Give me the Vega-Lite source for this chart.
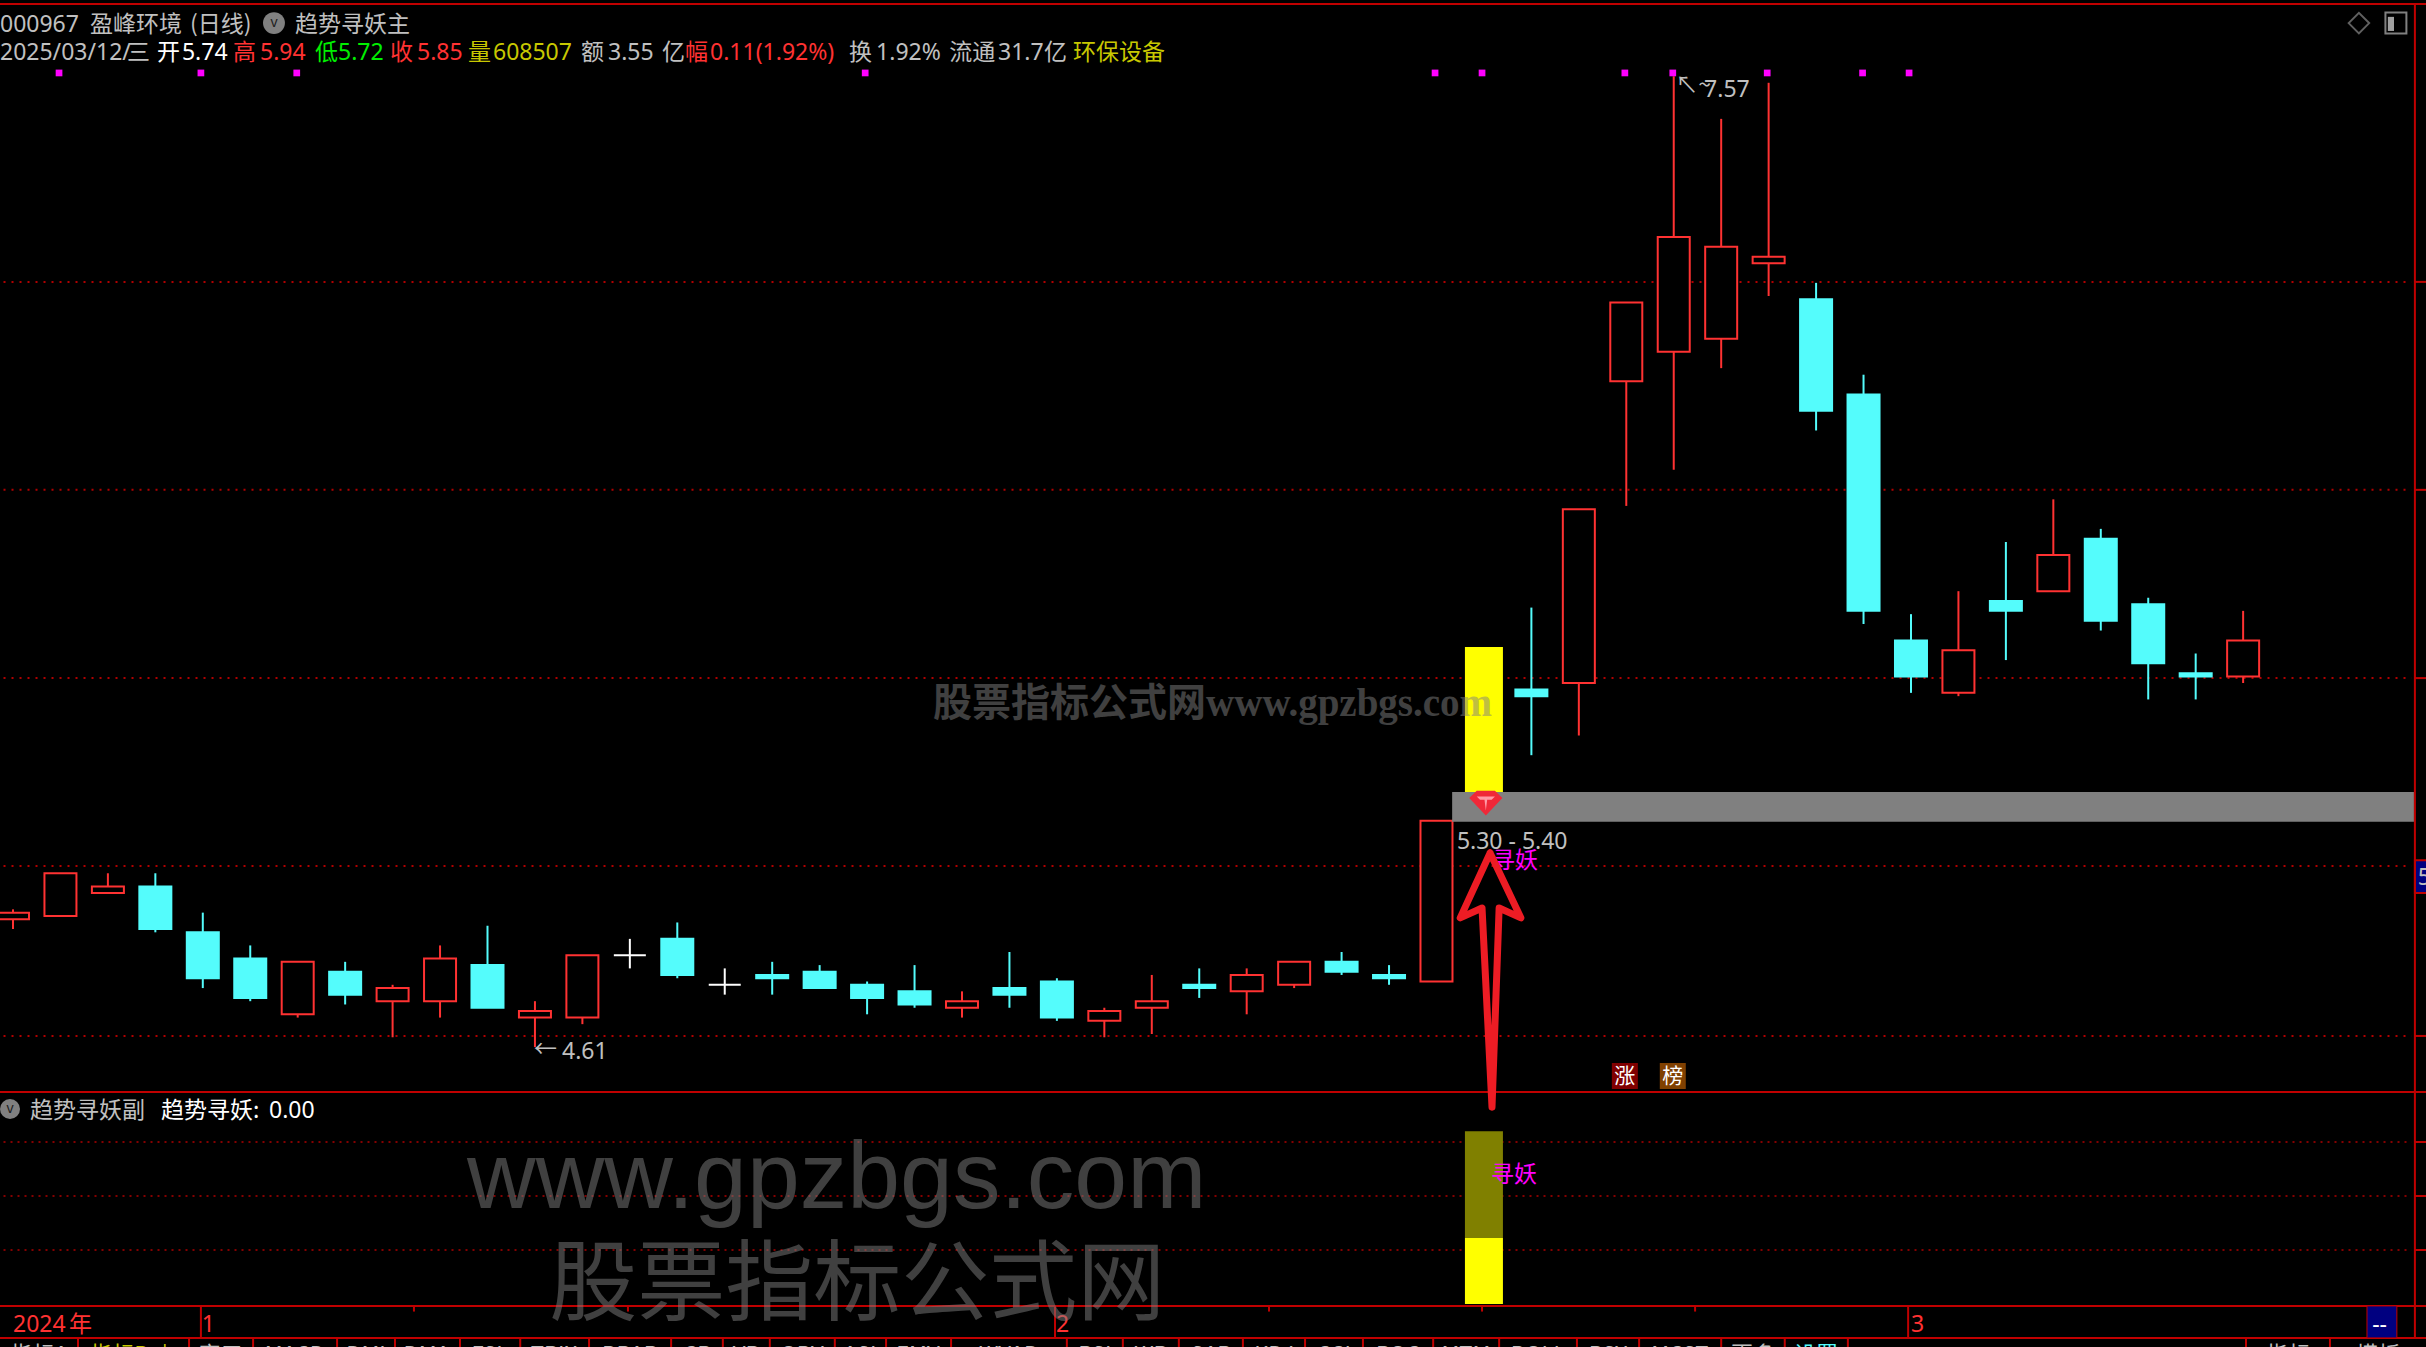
{
"$schema":"https://vega.github.io/schema/vega-lite/v6.json",
"autosize":{"type":"none"},"padding":0,"width":2426,"height":1347,"background":"#000000",
"config":{"view":{"stroke":null}},
"resolve":{"scale":{"y":"independent"}},
"encoding":{"x":{"field":"i","type":"quantitative","axis":null,"scale":{"domain":[-0.274,50.854],"nice":false,"zero":false,"padding":0}}},
"datasets":{
"candles":[
{"i":0,"o":5.00,"c":5.02,"h":5.03,"l":4.97,"dir":"up"},
{"i":1,"o":5.01,"c":5.14,"h":5.14,"l":5.01,"dir":"up"},
{"i":2,"o":5.08,"c":5.10,"h":5.14,"l":5.08,"dir":"up"},
{"i":3,"o":5.10,"c":4.97,"h":5.14,"l":4.96,"dir":"down"},
{"i":4,"o":4.96,"c":4.82,"h":5.02,"l":4.79,"dir":"down"},
{"i":5,"o":4.88,"c":4.76,"h":4.92,"l":4.75,"dir":"down"},
{"i":6,"o":4.71,"c":4.87,"h":4.87,"l":4.70,"dir":"up"},
{"i":7,"o":4.84,"c":4.77,"h":4.87,"l":4.74,"dir":"down"},
{"i":8,"o":4.75,"c":4.79,"h":4.80,"l":4.64,"dir":"up"},
{"i":9,"o":4.75,"c":4.88,"h":4.92,"l":4.70,"dir":"up"},
{"i":10,"o":4.86,"c":4.73,"h":4.98,"l":4.73,"dir":"down"},
{"i":11,"o":4.70,"c":4.72,"h":4.75,"l":4.61,"dir":"up"},
{"i":12,"o":4.70,"c":4.89,"h":4.89,"l":4.68,"dir":"up"},
{"i":13,"o":4.89,"c":4.89,"h":4.94,"l":4.85,"dir":"flat"},
{"i":14,"o":4.94,"c":4.83,"h":4.99,"l":4.82,"dir":"down"},
{"i":15,"o":4.80,"c":4.80,"h":4.85,"l":4.77,"dir":"flat"},
{"i":16,"o":4.83,"c":4.82,"h":4.87,"l":4.77,"dir":"down"},
{"i":17,"o":4.84,"c":4.79,"h":4.86,"l":4.79,"dir":"down"},
{"i":18,"o":4.80,"c":4.76,"h":4.81,"l":4.71,"dir":"down"},
{"i":19,"o":4.78,"c":4.74,"h":4.86,"l":4.73,"dir":"down"},
{"i":20,"o":4.73,"c":4.75,"h":4.78,"l":4.70,"dir":"up"},
{"i":21,"o":4.79,"c":4.77,"h":4.90,"l":4.73,"dir":"down"},
{"i":22,"o":4.81,"c":4.70,"h":4.82,"l":4.69,"dir":"down"},
{"i":23,"o":4.69,"c":4.72,"h":4.73,"l":4.64,"dir":"up"},
{"i":24,"o":4.73,"c":4.75,"h":4.83,"l":4.65,"dir":"up"},
{"i":25,"o":4.80,"c":4.79,"h":4.85,"l":4.76,"dir":"down"},
{"i":26,"o":4.78,"c":4.83,"h":4.85,"l":4.71,"dir":"up"},
{"i":27,"o":4.80,"c":4.87,"h":4.87,"l":4.79,"dir":"up"},
{"i":28,"o":4.87,"c":4.84,"h":4.90,"l":4.83,"dir":"down"},
{"i":29,"o":4.83,"c":4.82,"h":4.86,"l":4.80,"dir":"down"},
{"i":30,"o":4.81,"c":5.30,"h":5.30,"l":4.81,"dir":"up"},
{"i":32,"o":5.70,"c":5.68,"h":5.95,"l":5.50,"dir":"down"},
{"i":33,"o":5.72,"c":6.25,"h":6.25,"l":5.56,"dir":"up"},
{"i":34,"o":6.64,"c":6.88,"h":6.88,"l":6.26,"dir":"up"},
{"i":35,"o":6.73,"c":7.08,"h":7.57,"l":6.37,"dir":"up"},
{"i":36,"o":6.77,"c":7.05,"h":7.44,"l":6.68,"dir":"up"},
{"i":37,"o":7.00,"c":7.02,"h":7.55,"l":6.90,"dir":"up"},
{"i":38,"o":6.89,"c":6.55,"h":6.94,"l":6.49,"dir":"down"},
{"i":39,"o":6.60,"c":5.94,"h":6.66,"l":5.90,"dir":"down"},
{"i":40,"o":5.85,"c":5.74,"h":5.93,"l":5.69,"dir":"down"},
{"i":41,"o":5.69,"c":5.82,"h":6.00,"l":5.68,"dir":"up"},
{"i":42,"o":5.97,"c":5.94,"h":6.15,"l":5.79,"dir":"down"},
{"i":43,"o":6.00,"c":6.11,"h":6.28,"l":6.00,"dir":"up"},
{"i":44,"o":6.16,"c":5.91,"h":6.19,"l":5.88,"dir":"down"},
{"i":45,"o":5.96,"c":5.78,"h":5.98,"l":5.67,"dir":"down"},
{"i":46,"o":5.75,"c":5.74,"h":5.81,"l":5.67,"dir":"down"},
{"i":47,"o":5.74,"c":5.85,"h":5.94,"l":5.72,"dir":"up"}
]},
"layer":[
{"layer":[
{"data":{"values":[{"i":-0.2,"i2":50.55,"p":6.943},{"i":-0.2,"i2":50.55,"p":6.309},{"i":-0.2,"i2":50.55,"p":5.735},{"i":-0.2,"i2":50.55,"p":5.162},{"i":-0.2,"i2":50.55,"p":4.644}]},
"mark":{"type":"rule","stroke":"#b00000","strokeWidth":2,"strokeDash":[2,6]},
"encoding":{"x2":{"field":"i2"},"y":{"field":"p","type":"quantitative","axis":null,"scale":{"domain":[3.6957,7.8024],"nice":false,"zero":false,"padding":0}}}},
{"data":{"values":[{"i":50.62,"i2":50.854,"p":6.943},{"i":50.62,"i2":50.854,"p":6.309},{"i":50.62,"i2":50.854,"p":5.735},{"i":50.62,"i2":50.854,"p":4.644}]},
"mark":{"type":"rule","stroke":"#c00000","strokeWidth":2},
"encoding":{"x2":{"field":"i2"},"y":{"field":"p","type":"quantitative","axis":null,"scale":{"domain":[3.6957,7.8024],"nice":false,"zero":false,"padding":0}}}},
{"data":{"name":"candles"},"mark":{"type":"rule","strokeWidth":2},
"encoding":{"y":{"field":"h","type":"quantitative","axis":null,"scale":{"domain":[3.6957,7.8024],"nice":false,"zero":false,"padding":0}},"y2":{"field":"l"},
"stroke":{"field":"dir","type":"nominal","legend":null,"scale":{"domain":["up","down","flat"],"range":["#ff3232","#54fcfc","#ffffff"]}}}},
{"data":{"name":"candles"},"mark":{"type":"bar","size":32,"strokeWidth":2,"orient":"vertical"},
"encoding":{"y":{"field":"o","type":"quantitative","axis":null,"scale":{"domain":[3.6957,7.8024],"nice":false,"zero":false,"padding":0}},"y2":{"field":"c"},
"fill":{"field":"dir","type":"nominal","legend":null,"scale":{"domain":["up","down","flat"],"range":["#000000","#54fcfc","#ffffff"]}},
"stroke":{"field":"dir","type":"nominal","legend":null,"scale":{"domain":["up","down","flat"],"range":["#ff3232","#54fcfc","#ffffff"]}}}},
{"data":{"values":[{"i":31,"p":5.83,"p2":5.30}]},"mark":{"type":"bar","size":38,"fill":"#ffff00","orient":"vertical"},
"encoding":{"y":{"field":"p","type":"quantitative","axis":null,"scale":{"domain":[3.6957,7.8024],"nice":false,"zero":false,"padding":0}},"y2":{"field":"p2"}}},
{"data":{"values":[{"i":30.33,"i2":50.6,"p":5.388,"p2":5.297}]},"mark":{"type":"rect","fill":"#808080"},
"encoding":{"x2":{"field":"i2"},"y":{"field":"p","type":"quantitative","axis":null,"scale":{"domain":[3.6957,7.8024],"nice":false,"zero":false,"padding":0}},"y2":{"field":"p2"}}},
{"data":{"values":[{"i":31.04,"p":5.354}]},"mark":{"type":"point","filled":true,"size":1100,"opacity":1,"color":"#f02838","shape":"M-1,-0.3 L-0.55,-0.75 L0.55,-0.75 L1,-0.3 L0,0.75 Z"},
"encoding":{"y":{"field":"p","type":"quantitative","axis":null,"scale":{"domain":[3.6957,7.8024],"nice":false,"zero":false,"padding":0}}}},
{"data":{"values":[{"i":31.04,"p":5.354}]},"mark":{"type":"point","filled":true,"size":1100,"opacity":1,"color":"#ff9aa6","shape":"M-0.55,-0.4 L0.55,-0.4 L0.35,-0.2 L0.08,-0.2 L0,0.45 L-0.08,-0.2 L-0.35,-0.2 Z"},
"encoding":{"y":{"field":"p","type":"quantitative","axis":null,"scale":{"domain":[3.6957,7.8024],"nice":false,"zero":false,"padding":0}}}},
{"data":{"values":[{"i":0.97,"p":7.58},{"i":3.96,"p":7.58},{"i":5.98,"p":7.58},{"i":17.96,"p":7.58},{"i":29.97,"p":7.58},{"i":30.96,"p":7.58},{"i":33.97,"p":7.58},{"i":34.98,"p":7.58},{"i":36.97,"p":7.58},{"i":38.98,"p":7.58},{"i":39.96,"p":7.58}]},
"mark":{"type":"point","shape":"square","filled":true,"size":45,"opacity":1,"color":"#ff00ff"},
"encoding":{"y":{"field":"p","type":"quantitative","axis":null,"scale":{"domain":[3.6957,7.8024],"nice":false,"zero":false,"padding":0}}}},
{"data":{"values":[{"i":5.5,"p":7.732}]},"mark":{"type":"point","shape":"circle","filled":true,"size":480,"opacity":1,"color":"#808080"},
"encoding":{"y":{"field":"p","type":"quantitative","axis":null,"scale":{"domain":[3.6957,7.8024],"nice":false,"zero":false,"padding":0}}}},
{"data":{"values":[{"i":5.5,"p":7.732,"t":"v"}]},"mark":{"type":"text","font":"Noto Sans","fontSize":14,"fill":"#202020","align":"center","baseline":"middle"},
"encoding":{"y":{"field":"p","type":"quantitative","axis":null,"scale":{"domain":[3.6957,7.8024],"nice":false,"zero":false,"padding":0}},"text":{"field":"t"}}},
{"data":{"values":[{"i":49.44,"p":7.732}]},"mark":{"type":"point","shape":"diamond","size":420,"opacity":1,"color":"#606060","strokeWidth":2},
"encoding":{"y":{"field":"p","type":"quantitative","axis":null,"scale":{"domain":[3.6957,7.8024],"nice":false,"zero":false,"padding":0}}}},
{"data":{"values":[{"i":50.22,"p":7.732}]},"mark":{"type":"point","shape":"square","size":440,"opacity":1,"color":"#808080","strokeWidth":2},
"encoding":{"y":{"field":"p","type":"quantitative","axis":null,"scale":{"domain":[3.6957,7.8024],"nice":false,"zero":false,"padding":0}}}},
{"data":{"values":[{"i":50.05,"i2":50.18,"p":7.751,"p2":7.708}]},"mark":{"type":"rect","fill":"#a0a0a0"},
"encoding":{"x2":{"field":"i2"},"y":{"field":"p","type":"quantitative","axis":null,"scale":{"domain":[3.6957,7.8024],"nice":false,"zero":false,"padding":0}},"y2":{"field":"p2"}}},
{"data":{"values":[{"i":50.62,"i2":50.9,"p":5.18,"p2":5.08}]},"mark":{"type":"rect","fill":"#000080","stroke":"#c00000","strokeWidth":2},
"encoding":{"x2":{"field":"i2"},"y":{"field":"p","type":"quantitative","axis":null,"scale":{"domain":[3.6957,7.8024],"nice":false,"zero":false,"padding":0}},"y2":{"field":"p2"}}},
{"data":{"values":[{"i":33.97,"p":4.522}]},"mark":{"type":"point","shape":"square","filled":true,"size":676,"opacity":1,"color":"#800000"},
"encoding":{"y":{"field":"p","type":"quantitative","axis":null,"scale":{"domain":[3.6957,7.8024],"nice":false,"zero":false,"padding":0}}}},
{"data":{"values":[{"i":34.98,"p":4.522}]},"mark":{"type":"point","shape":"square","filled":true,"size":676,"opacity":1,"color":"#804000"},
"encoding":{"y":{"field":"p","type":"quantitative","axis":null,"scale":{"domain":[3.6957,7.8024],"nice":false,"zero":false,"padding":0}}}},
{"data":{"values":[{"i":33.97,"p":4.522,"t":"涨"},{"i":34.98,"p":4.522,"t":"榜"}]},"mark":{"type":"text","font":"Noto Sans CJK SC","fontSize":21,"fill":"#ffffff","align":"center","baseline":"middle","dy":1},
"encoding":{"y":{"field":"p","type":"quantitative","axis":null,"scale":{"domain":[3.6957,7.8024],"nice":false,"zero":false,"padding":0}},"text":{"field":"t"}}},
{"data":{"values":[
{"i":1.623,"p":7.732,"t":"盈峰环境","tone":"grey"},
{"i":3.73,"p":7.732,"t":"(日线)","tone":"grey"},
{"i":5.943,"p":7.732,"t":"趋势寻妖主","tone":"grey"},
{"i":2.403,"p":7.647,"t":"三","tone":"grey"},
{"i":3.035,"p":7.647,"t":"开","tone":"white"},
{"i":4.637,"p":7.647,"t":"高","tone":"red"},
{"i":6.365,"p":7.647,"t":"低","tone":"green"},
{"i":7.945,"p":7.647,"t":"收","tone":"red"},
{"i":9.589,"p":7.647,"t":"量","tone":"yellow"},
{"i":11.971,"p":7.647,"t":"额","tone":"grey"},
{"i":13.68,"p":7.647,"t":"亿","tone":"grey"},
{"i":14.162,"p":7.647,"t":"幅","tone":"red"},
{"i":17.62,"p":7.647,"t":"换","tone":"grey"},
{"i":19.73,"p":7.647,"t":"流通","tone":"grey"},
{"i":21.73,"p":7.647,"t":"亿","tone":"grey"},
{"i":22.34,"p":7.647,"t":"环保设备","tone":"yellow"},
{"i":10.98,"p":4.607,"t":"←","tone":"grey"},
{"i":35.03,"p":7.545,"t":"↖~","tone":"grey"},
{"i":31.17,"p":5.183,"t":"寻妖","tone":"magenta"}
]},"mark":{"type":"text","font":"Noto Sans CJK SC","fontSize":23,"align":"left","baseline":"middle","dy":2},
"encoding":{"y":{"field":"p","type":"quantitative","axis":null,"scale":{"domain":[3.6957,7.8024],"nice":false,"zero":false,"padding":0}},"text":{"field":"t"},
"color":{"field":"tone","type":"nominal","legend":null,"scale":{"domain":["grey","white","red","green","yellow","magenta","cyan"],"range":["#c0c0c0","#ffffff","#ff3232","#00f000","#c8c800","#ff00ff","#54fcfc"]}}}},
{"data":{"values":[
{"i":-0.274,"p":7.732,"t":"000967","tone":"grey"},
{"i":-0.274,"p":7.647,"t":"2025/03/12/","tone":"grey"},
{"i":3.561,"p":7.647,"t":"5.74","tone":"white"},
{"i":5.206,"p":7.647,"t":"5.94","tone":"red"},
{"i":6.849,"p":7.647,"t":"5.72","tone":"green"},
{"i":8.514,"p":7.647,"t":"5.85","tone":"red"},
{"i":10.116,"p":7.647,"t":"608507","tone":"yellow"},
{"i":12.54,"p":7.647,"t":"3.55","tone":"grey"},
{"i":14.69,"p":7.647,"t":"0.11(1.92%)","tone":"red"},
{"i":18.19,"p":7.647,"t":"1.92%","tone":"grey"},
{"i":20.76,"p":7.647,"t":"31.7","tone":"grey"},
{"i":11.57,"p":4.6,"t":"4.61","tone":"grey"},
{"i":35.64,"p":7.534,"t":"7.57","tone":"grey"},
{"i":30.43,"p":5.241,"t":"5.30 - 5.40","tone":"grey"},
{"i":50.68,"p":5.132,"t":"5","tone":"grey"}
]},"mark":{"type":"text","font":"Noto Sans","fontSize":23,"align":"left","baseline":"middle","dy":2},
"encoding":{"y":{"field":"p","type":"quantitative","axis":null,"scale":{"domain":[3.6957,7.8024],"nice":false,"zero":false,"padding":0}},"text":{"field":"t"},
"color":{"field":"tone","type":"nominal","legend":null,"scale":{"domain":["grey","white","red","green","yellow","magenta","cyan"],"range":["#c0c0c0","#ffffff","#ff3232","#00f000","#c8c800","#ff00ff","#54fcfc"]}}}},
{"data":{"values":[{"i":19.39,"p":5.668,"t":"股票指标公式网www.gpzbgs.com"}]},"mark":{"type":"text","font":"Liberation Serif, Noto Sans CJK SC","fontWeight":"bold","fontSize":39,"fill":"#808080","opacity":0.5,"align":"left","baseline":"middle","dy":4},
"encoding":{"y":{"field":"p","type":"quantitative","axis":null,"scale":{"domain":[3.6957,7.8024],"nice":false,"zero":false,"padding":0}},"text":{"field":"t"}}}
]},
{"layer":[
{"data":{"values":[{"i":-0.2,"i2":50.55,"v":75},{"i":-0.2,"i2":50.55,"v":50},{"i":-0.2,"i2":50.55,"v":25}]},
"mark":{"type":"rule","stroke":"#b00000","strokeWidth":1.5,"strokeDash":[2,5]},
"encoding":{"x2":{"field":"i2"},"y":{"field":"v","type":"quantitative","axis":null,"scale":{"domain":[-19.907,603.7],"nice":false,"zero":false,"padding":0}}}},
{"data":{"values":[{"i":50.62,"i2":50.854,"v":75},{"i":50.62,"i2":50.854,"v":50},{"i":50.62,"i2":50.854,"v":25},{"i":-0.274,"i2":50.854,"v":601.8},{"i":-0.274,"i2":50.854,"v":98.1},{"i":-0.274,"i2":50.854,"v":-0.9},{"i":-0.274,"i2":50.854,"v":-15.7}]},
"mark":{"type":"rule","stroke":"#c00000","strokeWidth":2},
"encoding":{"x2":{"field":"i2"},"y":{"field":"v","type":"quantitative","axis":null,"scale":{"domain":[-19.907,603.7],"nice":false,"zero":false,"padding":0}}}},
{"data":{"values":[{"i":50.62,"v":601.8,"v2":-15.7},
{"i":3.96,"v":-0.9,"v2":-15.7},{"i":21.96,"v":-0.9,"v2":-15.7},{"i":39.94,"v":-0.9,"v2":-15.7},
{"i":8.45,"v":-0.9,"v2":-3.5},{"i":12.96,"v":-0.9,"v2":-3.5},{"i":26.47,"v":-0.9,"v2":-3.5},{"i":30.96,"v":-0.9,"v2":-3.5},{"i":35.45,"v":-0.9,"v2":-3.5},
{"i":1.37,"v":-15.7,"v2":-24},{"i":3.71,"v":-15.7,"v2":-24},{"i":5.06,"v":-15.7,"v2":-24},{"i":6.83,"v":-15.7,"v2":-24},{"i":8.05,"v":-15.7,"v2":-24},{"i":9.42,"v":-15.7,"v2":-24},{"i":10.69,"v":-15.7,"v2":-24},{"i":12.14,"v":-15.7,"v2":-24},{"i":13.87,"v":-15.7,"v2":-24},{"i":14.96,"v":-15.7,"v2":-24},{"i":15.95,"v":-15.7,"v2":-24},{"i":17.32,"v":-15.7,"v2":-24},{"i":18.4,"v":-15.7,"v2":-24},{"i":19.77,"v":-15.7,"v2":-24},{"i":22.21,"v":-15.7,"v2":-24},{"i":23.39,"v":-15.7,"v2":-24},{"i":24.57,"v":-15.7,"v2":-24},{"i":25.92,"v":-15.7,"v2":-24},{"i":27.23,"v":-15.7,"v2":-24},{"i":28.45,"v":-15.7,"v2":-24},{"i":29.93,"v":-15.7,"v2":-24},{"i":31.32,"v":-15.7,"v2":-24},{"i":32.96,"v":-15.7,"v2":-24},{"i":34.27,"v":-15.7,"v2":-24},{"i":36.0,"v":-15.7,"v2":-24},{"i":37.34,"v":-15.7,"v2":-24},{"i":38.67,"v":-15.7,"v2":-24},{"i":47.06,"v":-15.7,"v2":-24},{"i":48.83,"v":-15.7,"v2":-24}
]},
"mark":{"type":"rule","stroke":"#c00000","strokeWidth":2},
"encoding":{"y":{"field":"v","type":"quantitative","axis":null,"scale":{"domain":[-19.907,603.7],"nice":false,"zero":false,"padding":0}},"y2":{"field":"v2"}}},
{"data":{"values":[{"i":31,"v":80,"v2":30.5}]},
"mark":{"type":"bar","size":38,"orient":"vertical","fill":"#808000"},
"encoding":{"y":{"field":"v","type":"quantitative","axis":null,"scale":{"domain":[-19.907,603.7],"nice":false,"zero":false,"padding":0}},"y2":{"field":"v2"}}},
{"data":{"values":[{"i":31,"v":30.5,"v2":0}]},
"mark":{"type":"bar","size":38,"orient":"vertical","fill":"#ffff00"},
"encoding":{"y":{"field":"v","type":"quantitative","axis":null,"scale":{"domain":[-19.907,603.7],"nice":false,"zero":false,"padding":0}},"y2":{"field":"v2"}}},
{"data":{"values":[{"i":49.61,"i2":50.24,"v":-0.9,"v2":-15.7}]},"mark":{"type":"rect","fill":"#000080","stroke":"#c00000","strokeWidth":1},
"encoding":{"x2":{"field":"i2"},"y":{"field":"v","type":"quantitative","axis":null,"scale":{"domain":[-19.907,603.7],"nice":false,"zero":false,"padding":0}},"y2":{"field":"v2"}}},
{"data":{"values":[{"i":-0.063,"v":90.3}]},"mark":{"type":"point","shape":"circle","filled":true,"size":400,"opacity":1,"color":"#808080"},
"encoding":{"y":{"field":"v","type":"quantitative","axis":null,"scale":{"domain":[-19.907,603.7],"nice":false,"zero":false,"padding":0}}}},
{"data":{"values":[{"i":-0.063,"v":90.3,"t":"v"}]},"mark":{"type":"text","font":"Noto Sans","fontSize":14,"fill":"#202020","align":"center","baseline":"middle"},
"encoding":{"y":{"field":"v","type":"quantitative","axis":null,"scale":{"domain":[-19.907,603.7],"nice":false,"zero":false,"padding":0}},"text":{"field":"t"}}},
{"data":{"values":[
{"i":0.358,"v":90.3,"t":"趋势寻妖副","tone":"grey"},
{"i":3.12,"v":90.3,"t":"趋势寻妖:","tone":"white"},
{"i":31.15,"v":60.6,"t":"寻妖","tone":"magenta"},
{"i":1.18,"v":-8.8,"t":"年","tone":"red"}
]},"mark":{"type":"text","font":"Noto Sans CJK SC","fontSize":23,"align":"left","baseline":"middle","dy":2},
"encoding":{"y":{"field":"v","type":"quantitative","axis":null,"scale":{"domain":[-19.907,603.7],"nice":false,"zero":false,"padding":0}},"text":{"field":"t"},
"color":{"field":"tone","type":"nominal","legend":null,"scale":{"domain":["grey","white","red","green","yellow","magenta","cyan"],"range":["#c0c0c0","#ffffff","#ff3232","#00f000","#c8c800","#ff00ff","#54fcfc"]}}}},
{"data":{"values":[
{"i":5.395,"v":90.3,"t":"0.00","tone":"white"},
{"i":0,"v":-8.8,"t":"2024","tone":"red"},
{"i":3.98,"v":-8.8,"t":"1","tone":"red"},
{"i":21.98,"v":-8.8,"t":"2","tone":"red"},
{"i":40.0,"v":-8.8,"t":"3","tone":"red"},
{"i":49.72,"v":-8.8,"t":"--","tone":"white"}
]},"mark":{"type":"text","font":"Noto Sans","fontSize":23,"align":"left","baseline":"middle","dy":2},
"encoding":{"y":{"field":"v","type":"quantitative","axis":null,"scale":{"domain":[-19.907,603.7],"nice":false,"zero":false,"padding":0}},"text":{"field":"t"},
"color":{"field":"tone","type":"nominal","legend":null,"scale":{"domain":["grey","white","red","green","yellow","magenta","cyan"],"range":["#c0c0c0","#ffffff","#ff3232","#00f000","#c8c800","#ff00ff","#54fcfc"]}}}},
{"data":{"values":[
{"i":0.55,"v":-22.3,"t":"指标A","tone":"grey"},{"i":2.53,"v":-22.3,"t":"指标B ↓","tone":"yellow"},{"i":4.38,"v":-22.3,"t":"窗口","tone":"grey"},{"i":5.94,"v":-22.3,"t":"MACD","tone":"grey"},{"i":7.44,"v":-22.3,"t":"DMI","tone":"grey"},{"i":8.72,"v":-22.3,"t":"DMA","tone":"grey"},{"i":10.05,"v":-22.3,"t":"FSL","tone":"grey"},{"i":11.4,"v":-22.3,"t":"TRIX","tone":"grey"},{"i":13.0,"v":-22.3,"t":"BRAR","tone":"grey"},{"i":14.42,"v":-22.3,"t":"CR","tone":"grey"},{"i":15.45,"v":-22.3,"t":"VR","tone":"grey"},{"i":16.63,"v":-22.3,"t":"OBV","tone":"grey"},{"i":17.85,"v":-22.3,"t":"ASI","tone":"grey"},{"i":19.07,"v":-22.3,"t":"EMV","tone":"grey"},{"i":20.99,"v":-22.3,"t":"WVAD","tone":"grey"},{"i":22.8,"v":-22.3,"t":"RSI","tone":"grey"},{"i":23.98,"v":-22.3,"t":"WR","tone":"grey"},{"i":25.25,"v":-22.3,"t":"SAR","tone":"grey"},{"i":26.58,"v":-22.3,"t":"KDJ","tone":"grey"},{"i":27.84,"v":-22.3,"t":"CCI","tone":"grey"},{"i":29.19,"v":-22.3,"t":"ROC","tone":"grey"},{"i":30.62,"v":-22.3,"t":"MTM","tone":"grey"},{"i":32.14,"v":-22.3,"t":"BOLL","tone":"grey"},{"i":33.61,"v":-22.3,"t":"PSY","tone":"grey"},{"i":35.13,"v":-22.3,"t":"MCST","tone":"grey"},{"i":36.67,"v":-22.3,"t":"更多","tone":"grey"},{"i":38.0,"v":-22.3,"t":"设置","tone":"cyan"},{"i":47.95,"v":-22.3,"t":"指标","tone":"grey"},{"i":49.84,"v":-22.3,"t":"模板","tone":"grey"}
]},"mark":{"type":"text","font":"Noto Sans CJK SC","fontSize":22,"align":"center","baseline":"middle","dy":3},
"encoding":{"y":{"field":"v","type":"quantitative","axis":null,"scale":{"domain":[-19.907,603.7],"nice":false,"zero":false,"padding":0}},"text":{"field":"t"},
"color":{"field":"tone","type":"nominal","legend":null,"scale":{"domain":["grey","white","red","green","yellow","magenta","cyan"],"range":["#c0c0c0","#ffffff","#ff3232","#00f000","#c8c800","#ff00ff","#54fcfc"]}}}},
{"data":{"values":[{"i":9.57,"v":59.7,"t":"www.gpzbgs.com"}]},"mark":{"type":"text","font":"Liberation Sans","fontSize":95,"fill":"#808080","opacity":0.5,"align":"left","baseline":"middle","dy":4},
"encoding":{"y":{"field":"v","type":"quantitative","axis":null,"scale":{"domain":[-19.907,603.7],"nice":false,"zero":false,"padding":0}},"text":{"field":"t"}}},
{"data":{"values":[{"i":11.3,"v":9.7,"t":"股票指标公式网"}]},"mark":{"type":"text","font":"Noto Sans CJK SC","fontSize":88,"fill":"#808080","opacity":0.5,"align":"left","baseline":"middle","dy":4},
"encoding":{"y":{"field":"v","type":"quantitative","axis":null,"scale":{"domain":[-19.907,603.7],"nice":false,"zero":false,"padding":0}},"text":{"field":"t"}}}
]},
{"layer":[
{"data":{"values":[{"n":0,"i":31.13,"p":5.202},{"n":1,"i":30.5,"p":5.004},{"n":2,"i":30.96,"p":5.034},{"n":3,"i":31.17,"p":4.427},{"n":4,"i":31.32,"p":5.034},{"n":5,"i":31.78,"p":5.004},{"n":6,"i":31.13,"p":5.202}]},
"mark":{"type":"line","stroke":"#ed1c24","strokeWidth":7,"strokeJoin":"round","strokeCap":"round"},
"encoding":{"y":{"field":"p","type":"quantitative","axis":null,"scale":{"domain":[3.6957,7.8024],"nice":false,"zero":false,"padding":0}},"order":{"field":"n","type":"ordinal"}}}
]}
]}
